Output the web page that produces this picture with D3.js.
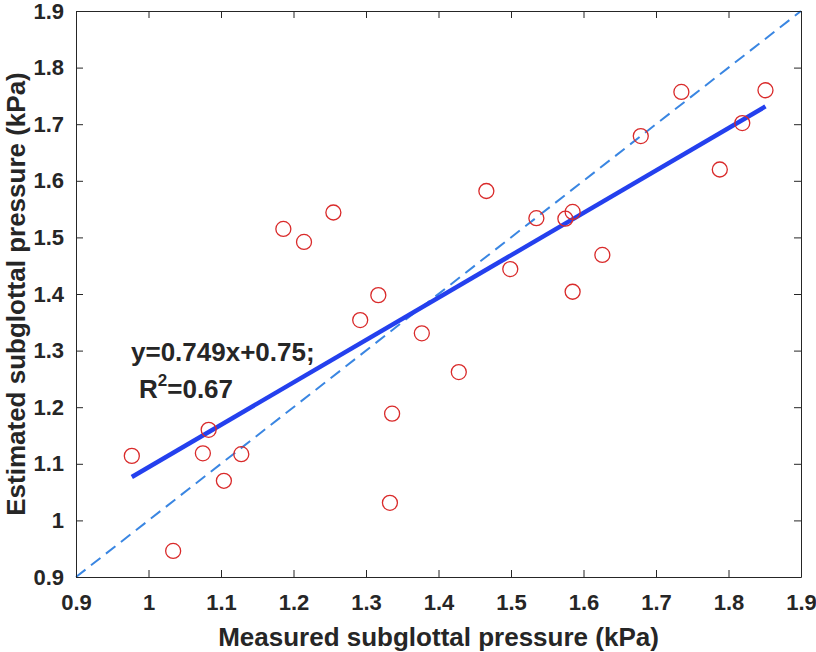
<!DOCTYPE html>
<html>
<head>
<meta charset="utf-8">
<script src="https://cdn.jsdelivr.net/npm/d3@7"></script>
<style>
  html, body { margin: 0; padding: 0; background: #fff; }
  svg { display: block; }
  text { font-family: "Liberation Sans", Arial, Helvetica, sans-serif; font-weight: bold; fill: #262626; }
</style>
</head>
<body>
<svg id="chart" width="816" height="652"></svg>
<script>
// ---- data ----
const measured = [0.977, 1.034, 1.075, 1.083, 1.104, 1.128, 1.186, 1.2145, 1.255, 1.292,
                  1.317, 1.333, 1.336, 1.377, 1.428, 1.466, 1.499, 1.535, 1.575, 1.585,
                  1.585, 1.626, 1.679, 1.735, 1.788, 1.819, 1.851];
const estimated = [1.114, 0.946, 1.1185, 1.160, 1.070, 1.117, 1.515, 1.492, 1.544, 1.354,
                   1.398, 1.031, 1.1885, 1.3305, 1.262, 1.582, 1.444, 1.534, 1.533, 1.545,
                   1.404, 1.469, 1.679, 1.757, 1.620, 1.702, 1.760];
const fitSlope = 0.749;
const fitIntercept = 0.345;
const xTicks = [0.9, 1, 1.1, 1.2, 1.3, 1.4, 1.5, 1.6, 1.7, 1.8, 1.9];
const yTicks = [0.9, 1, 1.1, 1.2, 1.3, 1.4, 1.5, 1.6, 1.7, 1.8, 1.9];
const xDomain = [0.9, 1.9];
const yDomain = [0.9, 1.9];
const xTitle = "Measured subglottal pressure (kPa)";
const yTitle = "Estimated subglottal pressure (kPa)";
const eqLine1 = "y=0.749x+0.75;";
const eqR2 = "=0.67";

// ---- layout ----
const L = 76, R = 801, T = 11, B = 577;
const svg = d3.select("#chart");
const x = d3.scaleLinear().domain(xDomain).range([L, R]);
const y = d3.scaleLinear().domain(yDomain).range([B, T]);
const fmt = d => d3.format("")(+d.toFixed(1));
const axisColor = "#262626";

// identity dashed line
svg.append("line")
  .attr("x1", x(xDomain[0])).attr("y1", y(yDomain[0]))
  .attr("x2", x(xDomain[1])).attr("y2", y(yDomain[1]))
  .attr("stroke", "#3a86e2").attr("stroke-width", 2)
  .attr("stroke-dasharray", "12,7");

// regression line
const xMin = d3.min(measured), xMax = d3.max(measured);
svg.append("line")
  .attr("x1", x(xMin)).attr("y1", y(fitSlope * xMin + fitIntercept))
  .attr("x2", x(xMax)).attr("y2", y(fitSlope * xMax + fitIntercept))
  .attr("stroke", "#2440ee").attr("stroke-width", 4.5)
  .attr("stroke-linecap", "butt");

// points
svg.append("g").selectAll("circle")
  .data(measured.map((m, i) => [m, estimated[i]]))
  .join("circle")
  .attr("cx", d => x(d[0])).attr("cy", d => y(d[1]))
  .attr("r", 7.5)
  .attr("fill", "none")
  .attr("stroke", "#d92a2a").attr("stroke-width", 1.3);

// axes (ticks inside, all four sides)
const tl = 7;
const ax = (axisGen, tx, ty) => {
  const g = svg.append("g").attr("transform", `translate(${tx},${ty})`).call(axisGen);
  g.select(".domain").attr("stroke", axisColor).attr("stroke-width", 1);
  g.selectAll(".tick line").attr("stroke", axisColor).attr("stroke-width", 1);
  return g;
};
const gxB = ax(d3.axisBottom(x).tickValues(xTicks).tickSizeInner(-tl).tickSizeOuter(0).tickPadding(17).tickFormat(fmt), 0, B);
gxB.selectAll("text").attr("font-size", 22).attr("fill", axisColor).attr("dy", "0.71em");
ax(d3.axisTop(x).tickValues(xTicks).tickSizeInner(-tl).tickSizeOuter(0).tickFormat(""), 0, T);
const gyL = ax(d3.axisLeft(y).tickValues(yTicks).tickSizeInner(-tl).tickSizeOuter(0).tickPadding(12).tickFormat(fmt), L, 0);
gyL.selectAll("text").attr("font-size", 22).attr("fill", axisColor);
ax(d3.axisRight(y).tickValues(yTicks).tickSizeInner(-tl).tickSizeOuter(0).tickFormat(""), R, 0);
svg.selectAll(".tick text").style("font-family", "'Liberation Sans', Arial, sans-serif").style("font-weight", "bold");

// axis titles
svg.append("text")
  .attr("x", (L + R) / 2).attr("y", 646)
  .attr("text-anchor", "middle").attr("font-size", 26)
  .text(xTitle);
svg.append("text")
  .attr("transform", `translate(25,${(T + B) / 2}) rotate(-90)`)
  .attr("text-anchor", "middle").attr("font-size", 26)
  .text(yTitle);

// equation annotation
svg.append("text").attr("x", 131).attr("y", 361).attr("font-size", 26).text(eqLine1);
const t2 = svg.append("text").attr("x", 139).attr("y", 398).attr("font-size", 26);
t2.append("tspan").text("R");
t2.append("tspan").attr("font-size", 17).attr("dy", -12).text("2");
t2.append("tspan").attr("dy", 12).text(eqR2);
</script>
</body>
</html>
